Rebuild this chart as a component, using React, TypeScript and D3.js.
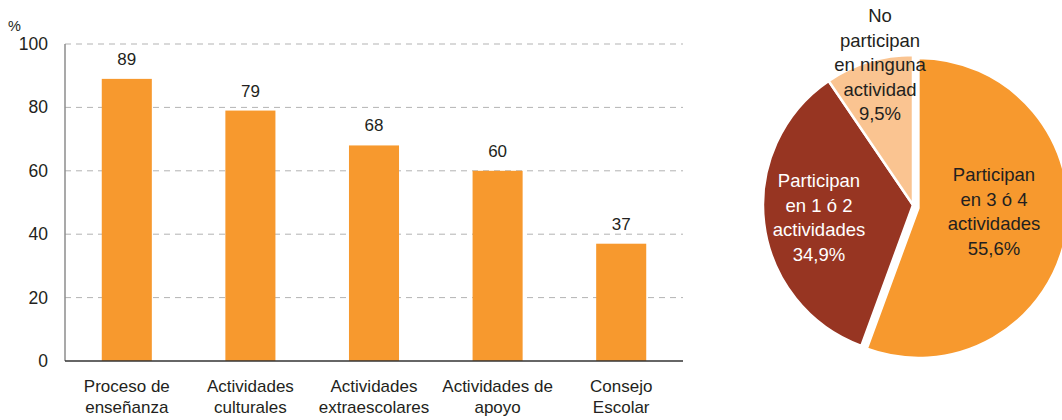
import React from "react";
import * as d3 from "d3";

const categories: string[][] = [
  ["Proceso de", "enseñanza"],
  ["Actividades", "culturales"],
  ["Actividades", "extraescolares"],
  ["Actividades de", "apoyo"],
  ["Consejo", "Escolar"],
];
const barValues = [89, 79, 68, 60, 37];
const yTicks = [0, 20, 40, 60, 80, 100];

const pieLabels: string[][] = [
  ["Participan", "en 3 ó 4", "actividades", "55,6%"],
  ["Participan", "en 1 ó 2", "actividades", "34,9%"],
  ["No", "participan", "en ninguna", "actividad", "9,5%"],
];
const pieValues = [55.6, 34.9, 9.5];
const pieColors = ["#F7992E", "#973522", "#FAC491"];
const pieTextColors = ["#231F20", "#FFFFFF", "#231F20"];

const W = 1062;
const H = 420;
const FONT = "'Liberation Sans', Arial, sans-serif";
const TEXT = "#231F20";

export default function App() {
  const x0 = 65, x1 = 683, yTop = 44, yBot = 361;
  const x = d3
    .scaleBand<number>()
    .domain(d3.range(barValues.length))
    .range([x0, x1])
    .paddingInner(0.595)
    .paddingOuter(0.2975);
  const y = d3.scaleLinear().domain([0, 100]).range([yBot, yTop]);

  const cx = 913, cy = 205, r = 150;
  const pie = d3.pie<number>().sort(null).startAngle(0).endAngle(2 * Math.PI);
  const arcs = pie(pieValues);
  const arcGen = d3.arc<d3.PieArcDatum<number>>().innerRadius(0).outerRadius(r);
  const explode = [5.5, 0, 0];
  const labelPos: [number, number, number][] = [
    [994, 181, 24.5],
    [819, 187, 24.7],
    [880, 22, 24.5],
  ];

  return (
    <svg
      width={W}
      height={H}
      style={{ position: "absolute", left: 0, top: 0, background: "#fff" }}
      fontFamily={FONT}
    >
      {yTicks.filter((t) => t > 0).map((t) => (
        <line
          key={"g" + t}
          x1={x0}
          x2={x1}
          y1={y(t)}
          y2={y(t)}
          stroke="#B3B3B3"
          strokeWidth={1}
          strokeDasharray="6,5"
        />
      ))}
      {barValues.map((v, i) => (
        <rect
          key={"b" + i}
          x={x(i)}
          y={y(v)}
          width={x.bandwidth()}
          height={y(0) - y(v)}
          fill="#F7992E"
        />
      ))}
      {barValues.map((v, i) => (
        <text
          key={"v" + i}
          x={(x(i) as number) + x.bandwidth() / 2}
          y={y(v) - 14}
          textAnchor="middle"
          fontSize={17}
          fill={TEXT}
        >
          {v}
        </text>
      ))}
      <line x1={x0} x2={x0} y1={yTop} y2={yBot} stroke="#8C8C8C" strokeWidth={1.5} />
      <line x1={x0} x2={x1} y1={yBot} y2={yBot} stroke="#333" strokeWidth={1.5} />
      {yTicks.map((t) => (
        <text
          key={"t" + t}
          x={48}
          y={y(t) + 6}
          textAnchor="end"
          fontSize={17.5}
          fill={TEXT}
        >
          {t}
        </text>
      ))}
      <text x={8} y={31} fontSize={14.5} fill={TEXT}>
        %
      </text>
      {categories.map((lines, i) =>
        lines.map((ln, j) => (
          <text
            key={"c" + i + "-" + j}
            x={(x(i) as number) + x.bandwidth() / 2}
            y={392 + j * 21}
            textAnchor="middle"
            fontSize={17}
            fill={TEXT}
          >
            {ln}
          </text>
        ))
      )}
      {arcs.map((a, i) => {
        const mid = (a.startAngle + a.endAngle) / 2;
        const dx = Math.sin(mid) * explode[i];
        const dy = -Math.cos(mid) * explode[i] + (i === 0 ? 2 : 0);
        return (
          <path
            key={"p" + i}
            d={arcGen(a) as string}
            transform={`translate(${cx + dx},${cy + dy})`}
            fill={pieColors[i]}
            stroke="#fff"
            strokeWidth={2.5}
            strokeLinejoin="round"
          />
        );
      })}
      {pieLabels.map((lines, i) =>
        lines.map((ln, j) => (
          <text
            key={"pl" + i + "-" + j}
            x={labelPos[i][0]}
            y={labelPos[i][1] + j * labelPos[i][2]}
            textAnchor="middle"
            fontSize={18.5}
            fill={pieTextColors[i]}
          >
            {ln}
          </text>
        ))
      )}
    </svg>
  );
}
